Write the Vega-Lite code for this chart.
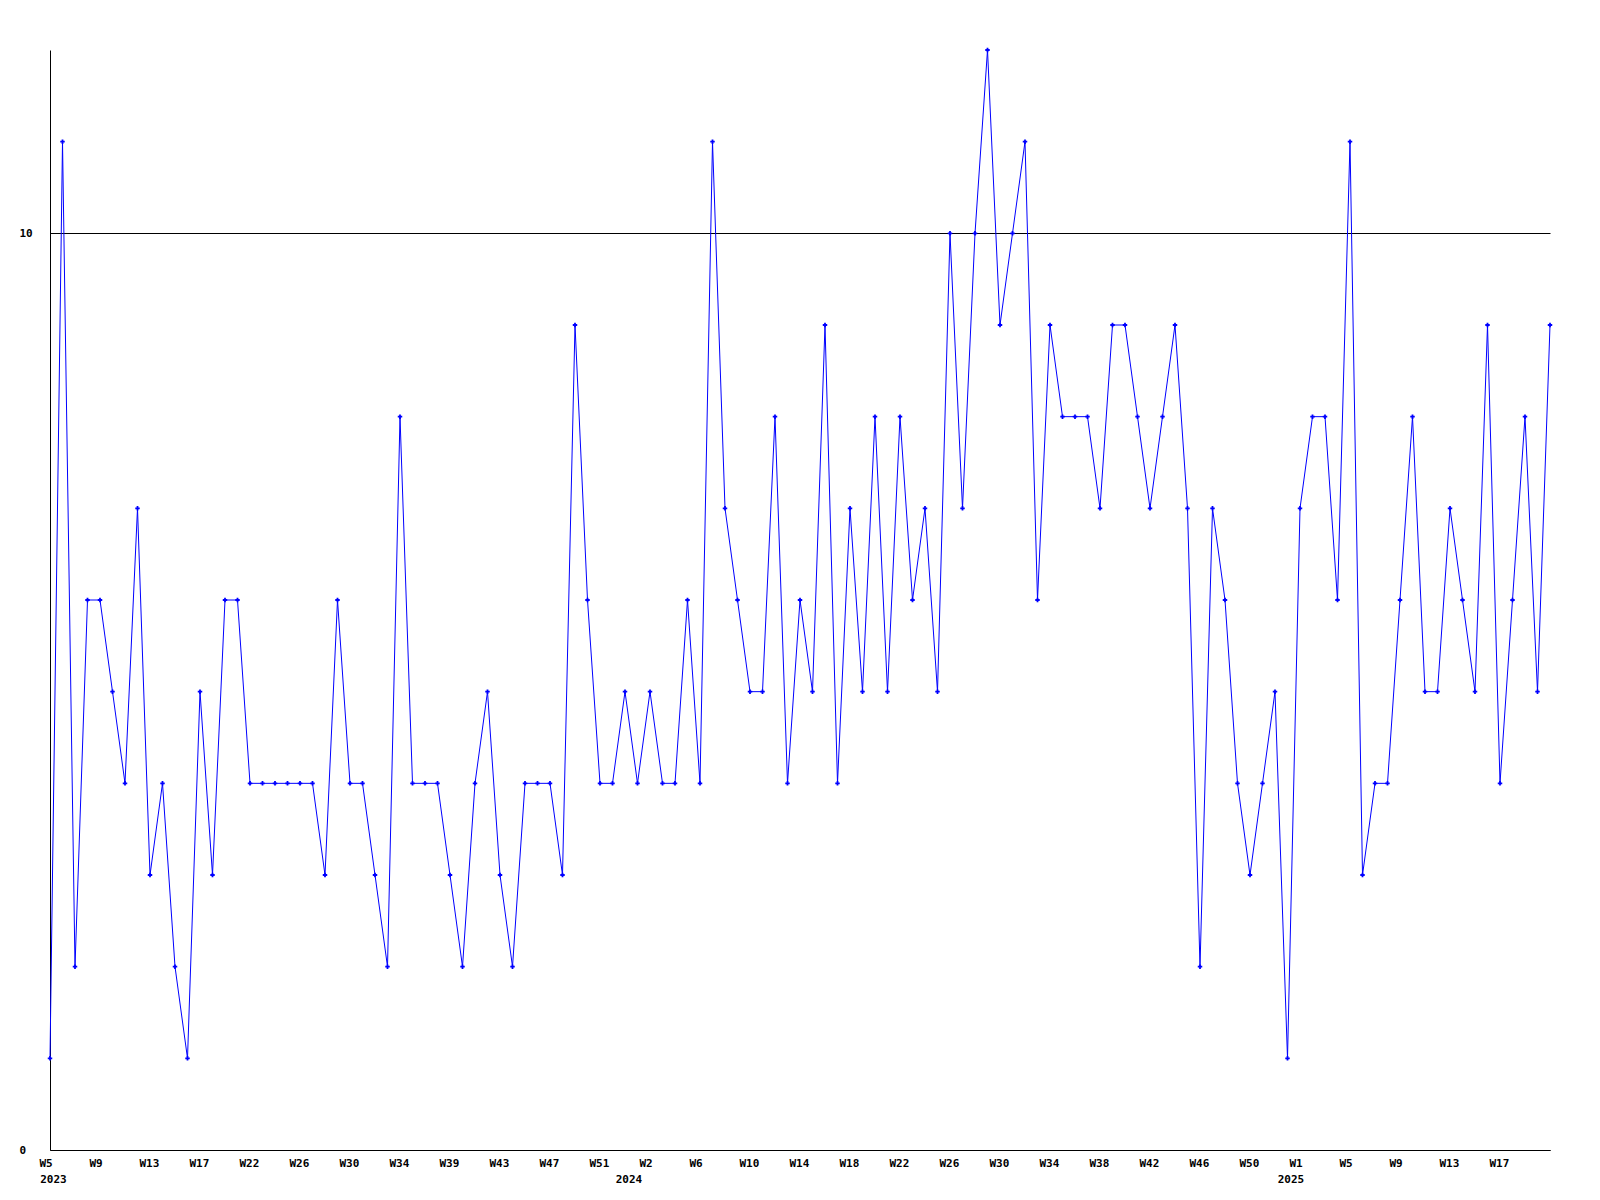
{
  "$schema": "https://vega.github.io/schema/vega-lite/v6.json",
  "width": 1500,
  "height": 1100,
  "autosize": {"type": "none"},
  "padding": {"left": 50, "top": 50, "right": 50, "bottom": 50},
  "background": "white",
  "config": {
    "view": {"stroke": null},
    "axis": {
      "labelFont": "DejaVu Sans Mono",
      "labelFontWeight": "bold",
      "labelFontSize": 11,
      "labelColor": "#000000",
      "domainColor": "#000000",
      "domainWidth": 1,
      "ticks": false,
      "tickSize": 0,
      "title": null,
      "labelOverlap": false,
      "labelBound": false,
      "labelFlush": false
    }
  },
  "data": {
    "values": [
      {"i": 0, "v": 1}, {"i": 1, "v": 11}, {"i": 2, "v": 2}, {"i": 3, "v": 6}, {"i": 4, "v": 6},
      {"i": 5, "v": 5}, {"i": 6, "v": 4}, {"i": 7, "v": 7}, {"i": 8, "v": 3}, {"i": 9, "v": 4},
      {"i": 10, "v": 2}, {"i": 11, "v": 1}, {"i": 12, "v": 5}, {"i": 13, "v": 3}, {"i": 14, "v": 6},
      {"i": 15, "v": 6}, {"i": 16, "v": 4}, {"i": 17, "v": 4}, {"i": 18, "v": 4}, {"i": 19, "v": 4},
      {"i": 20, "v": 4}, {"i": 21, "v": 4}, {"i": 22, "v": 3}, {"i": 23, "v": 6}, {"i": 24, "v": 4},
      {"i": 25, "v": 4}, {"i": 26, "v": 3}, {"i": 27, "v": 2}, {"i": 28, "v": 8}, {"i": 29, "v": 4},
      {"i": 30, "v": 4}, {"i": 31, "v": 4}, {"i": 32, "v": 3}, {"i": 33, "v": 2}, {"i": 34, "v": 4},
      {"i": 35, "v": 5}, {"i": 36, "v": 3}, {"i": 37, "v": 2}, {"i": 38, "v": 4}, {"i": 39, "v": 4},
      {"i": 40, "v": 4}, {"i": 41, "v": 3}, {"i": 42, "v": 9}, {"i": 43, "v": 6}, {"i": 44, "v": 4},
      {"i": 45, "v": 4}, {"i": 46, "v": 5}, {"i": 47, "v": 4}, {"i": 48, "v": 5}, {"i": 49, "v": 4},
      {"i": 50, "v": 4}, {"i": 51, "v": 6}, {"i": 52, "v": 4}, {"i": 53, "v": 11}, {"i": 54, "v": 7},
      {"i": 55, "v": 6}, {"i": 56, "v": 5}, {"i": 57, "v": 5}, {"i": 58, "v": 8}, {"i": 59, "v": 4},
      {"i": 60, "v": 6}, {"i": 61, "v": 5}, {"i": 62, "v": 9}, {"i": 63, "v": 4}, {"i": 64, "v": 7},
      {"i": 65, "v": 5}, {"i": 66, "v": 8}, {"i": 67, "v": 5}, {"i": 68, "v": 8}, {"i": 69, "v": 6},
      {"i": 70, "v": 7}, {"i": 71, "v": 5}, {"i": 72, "v": 10}, {"i": 73, "v": 7}, {"i": 74, "v": 10},
      {"i": 75, "v": 12}, {"i": 76, "v": 9}, {"i": 77, "v": 10}, {"i": 78, "v": 11}, {"i": 79, "v": 6},
      {"i": 80, "v": 9}, {"i": 81, "v": 8}, {"i": 82, "v": 8}, {"i": 83, "v": 8}, {"i": 84, "v": 7},
      {"i": 85, "v": 9}, {"i": 86, "v": 9}, {"i": 87, "v": 8}, {"i": 88, "v": 7}, {"i": 89, "v": 8},
      {"i": 90, "v": 9}, {"i": 91, "v": 7}, {"i": 92, "v": 2}, {"i": 93, "v": 7}, {"i": 94, "v": 6},
      {"i": 95, "v": 4}, {"i": 96, "v": 3}, {"i": 97, "v": 4}, {"i": 98, "v": 5}, {"i": 99, "v": 1},
      {"i": 100, "v": 7}, {"i": 101, "v": 8}, {"i": 102, "v": 8}, {"i": 103, "v": 6}, {"i": 104, "v": 11},
      {"i": 105, "v": 3}, {"i": 106, "v": 4}, {"i": 107, "v": 4}, {"i": 108, "v": 6}, {"i": 109, "v": 8},
      {"i": 110, "v": 5}, {"i": 111, "v": 5}, {"i": 112, "v": 7}, {"i": 113, "v": 6}, {"i": 114, "v": 5},
      {"i": 115, "v": 9}, {"i": 116, "v": 4}, {"i": 117, "v": 6}, {"i": 118, "v": 8}, {"i": 119, "v": 5},
      {"i": 120, "v": 9}
    ]
  },
  "encoding": {
    "y": {
      "field": "v",
      "type": "quantitative",
      "scale": {"domain": [0, 12], "nice": false, "zero": true},
      "axis": {
        "values": [0, 10],
        "grid": true,
        "gridColor": "#000000",
        "gridOpacity": 1,
        "gridWidth": 1,
        "domain": true,
        "labelAlign": "left",
        "labelBaseline": "middle",
        "labelPadding": 31
      }
    }
  },
  "layer": [
    {
      "mark": {"type": "line", "color": "#0000ff", "strokeWidth": 1},
      "encoding": {
        "x": {
          "field": "i",
          "type": "quantitative",
          "scale": {"domain": [0, 120], "nice": false, "zero": false},
          "axis": {
            "orient": "bottom",
            "values": [0, 4, 8, 12, 16, 20, 24, 28, 32, 36, 40, 44, 48, 52, 56, 60, 64, 68, 72, 76, 80, 84, 88, 92, 96, 100, 104, 108, 112, 116],
            "labelExpr": "['W5','W9','W13','W17','W22','W26','W30','W34','W39','W43','W47','W51','W2','W6','W10','W14','W18','W22','W26','W30','W34','W38','W42','W46','W50','W1','W5','W9','W13','W17'][round(datum.value/4)]",
            "grid": false,
            "domain": true,
            "labelAlign": "left",
            "labelBaseline": "top",
            "labelOffset": -11,
            "labelPadding": 7
          }
        }
      }
    },
    {
      "mark": {"type": "point", "shape": "cross", "filled": true, "color": "#0000ff", "size": 20, "opacity": 1},
      "encoding": {
        "x": {
          "field": "i",
          "type": "quantitative",
          "scale": {"domain": [0, 120], "nice": false, "zero": false},
          "axis": {
            "orient": "bottom",
            "values": [0.24, 46.28, 99.24],
            "labelExpr": "datum.value < 20 ? '2023' : (datum.value < 70 ? '2024' : '2025')",
            "grid": false,
            "domain": false,
            "labelAlign": "center",
            "labelBaseline": "top",
            "labelPadding": 23
          }
        }
      }
    }
  ],
  "resolve": {"axis": {"x": "independent"}}
}
